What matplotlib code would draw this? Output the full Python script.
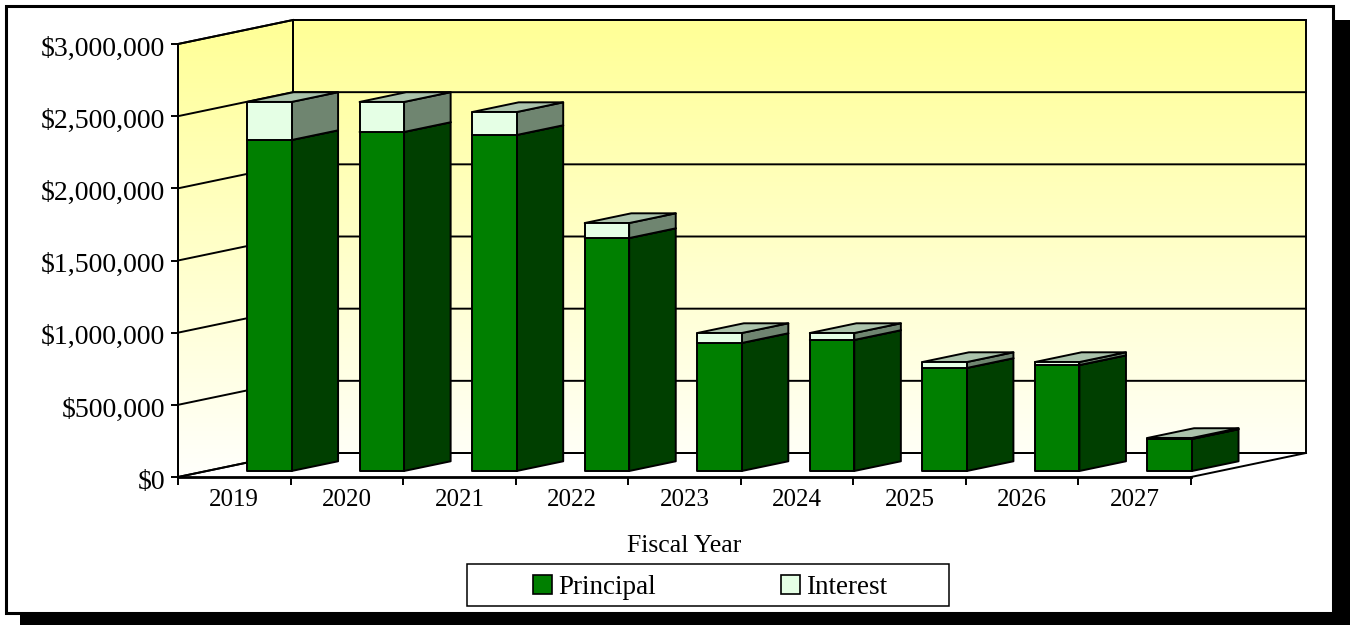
import numpy as np
import matplotlib
matplotlib.use('Agg')
import matplotlib.pyplot as plt
from matplotlib.patches import Polygon, Rectangle
from matplotlib.ticker import FuncFormatter
from matplotlib.transforms import ScaledTranslation

years = ['2019', '2020', '2021', '2022', '2023', '2024', '2025', '2026', '2027']
principal = [2293000, 2349000, 2328000, 1614000, 887000, 908000, 714000, 734000, 222000]
interest = [264000, 208000, 159000, 104000, 69000, 48000, 41000, 21000, 7000]

W, H = 1350, 625

# front plane of the chart in pixels
LEFT, RIGHT, BOTTOM, TOP = 178, 1191, 477, 44
YMAX = 3000000

# how far the back wall sits behind the front plane, in data units
DEPTH_X = 115 / ((RIGHT - LEFT) / len(years))
DEPTH_Y = 24 / ((BOTTOM - TOP) / YMAX)

BAR_LEFT = 0.358
BAR_W = 0.395
BAR_D0 = 0.25
BAR_D1 = 0.655

LW = 1.4

C_P = '#007f00'
C_P_SIDE = '#003f00'
C_P_TOP = '#7fbf7f'
C_I = '#e5ffe5'
C_I_SIDE = '#6f8570'
C_I_TOP = '#abc3ab'

plt.rcParams['font.family'] = ['Liberation Serif', 'DejaVu Serif']


def proj(x, y, d):
    # move a point on the front plane back by depth d (0 front, 1 back wall)
    return (x + d * DEPTH_X, y + d * DEPTH_Y)


def box(ax, x0, x1, y0, y1, front, side, top, z):
    a = [proj(x0, y0, BAR_D0), proj(x1, y0, BAR_D0), proj(x1, y1, BAR_D0), proj(x0, y1, BAR_D0)]
    b = [proj(x1, y0, BAR_D0), proj(x1, y0, BAR_D1), proj(x1, y1, BAR_D1), proj(x1, y1, BAR_D0)]
    c = [proj(x0, y1, BAR_D0), proj(x1, y1, BAR_D0), proj(x1, y1, BAR_D1), proj(x0, y1, BAR_D1)]
    for pts, col in ((b, side), (c, top), (a, front)):
        ax.add_patch(Polygon(pts, closed=True, facecolor=col, edgecolor='black',
                             linewidth=LW, joinstyle='round', clip_on=False, zorder=z))


fig = plt.figure(figsize=(W / 100, H / 100), dpi=100, facecolor='white')

# drop shadow and border round the whole chart
fig.add_artist(Rectangle((20 / W, 0), (W - 20) / W, (H - 20) / H, transform=fig.transFigure,
                         facecolor='black', edgecolor='none', zorder=-3))
fig.add_artist(Rectangle((6 / W, 1 - 613 / H), 1327 / W, 607 / H, transform=fig.transFigure,
                         facecolor='white', edgecolor='black', linewidth=2.2, zorder=-2))

ax = fig.add_axes([LEFT / W, 1 - BOTTOM / H, (RIGHT - LEFT) / W, (BOTTOM - TOP) / H])
ax.patch.set_visible(False)
n = len(years)

# yellow fade on the walls
back = [proj(0, 0, 1), proj(n, 0, 1), proj(n, YMAX, 1), proj(0, YMAX, 1)]
side = [proj(0, 0, 0), proj(0, 0, 1), proj(0, YMAX, 1), proj(0, YMAX, 0)]
grad = np.ones((256, 1, 3))
grad[:, 0, 2] = np.linspace(150, 252, 256) / 255
ext = (0, n + DEPTH_X, 0, YMAX + DEPTH_Y)
for poly in (back, side):
    im = ax.imshow(grad, extent=ext, origin='upper', aspect='auto', zorder=0)
    im.set_clip_box(fig.bbox)
    im.set_clip_path(Polygon(poly, closed=True, transform=ax.transData))

# wall outlines and grid
for poly in (back, side):
    ax.add_patch(Polygon(poly, closed=True, fill=False, edgecolor='black', linewidth=LW,
                         clip_on=False, zorder=1))
for v in np.arange(0, YMAX + 1, 500000):
    xs, ys = zip(proj(0, v, 0), proj(0, v, 1), proj(n, v, 1))
    ax.plot(xs, ys, color='black', linewidth=LW, clip_on=False, zorder=1)
xs, ys = zip(proj(n, 0, 1), proj(n, 0, 0))
ax.plot(xs, ys, color='black', linewidth=LW, clip_on=False, zorder=1)

# bars, principal first and interest stacked on top
for i in range(n):
    x0 = i + BAR_LEFT
    x1 = x0 + BAR_W
    p = principal[i]
    box(ax, x0, x1, 0, p, C_P, C_P_SIDE, C_P_TOP, 3)
    box(ax, x0, x1, p, p + interest[i], C_I, C_I_SIDE, C_I_TOP, 4)

ax.set_xlim(0, n)
ax.set_ylim(0, YMAX)

ax.spines['top'].set_visible(False)
ax.spines['right'].set_visible(False)
ax.spines['left'].set_linewidth(LW)
ax.spines['bottom'].set_linewidth(2)
ax.spines['left'].set_zorder(2)
ax.spines['bottom'].set_zorder(2)

ax.set_yticks(np.arange(0, YMAX + 1, 500000))
ax.yaxis.set_major_formatter(FuncFormatter(lambda v, pos: '${:,.0f}'.format(v)))
ax.tick_params(axis='y', length=5, width=LW, labelsize=20, pad=4)
# dollar labels sit a little under their ticks
nudge = ScaledTranslation(0, -1.5 / 72, fig.dpi_scale_trans)
for lab in ax.get_yticklabels():
    lab.set_transform(lab.get_transform() + nudge)

ax.set_xticks(np.arange(n + 1))
ax.set_xticklabels([])
ax.set_xticks(np.arange(n) + 0.5, minor=True)
ax.set_xticklabels(years, minor=True)
ax.tick_params(axis='x', which='major', length=6, width=LW)
ax.tick_params(axis='x', which='minor', length=0, labelsize=18, pad=9)
ax.set_xlabel('Fiscal Year', fontsize=18.5, labelpad=17)

# legend frame is wider than its entries, so it is drawn on its own
fig.add_artist(Rectangle((467.5 / W, 1 - 606 / H), 481.5 / W, 42.5 / H, transform=fig.transFigure,
                         facecolor='white', edgecolor='black', linewidth=1.1, zorder=1))
handles = [Rectangle((0, 0), 1, 1, facecolor=C_P, edgecolor='black', linewidth=1.2),
           Rectangle((0, 0), 1, 1, facecolor=C_I, edgecolor='black', linewidth=1.2)]
leg = fig.legend(handles, ['Principal', 'Interest'], ncol=2, loc='center',
                 bbox_to_anchor=(710 / W, 1 - 587 / H), fontsize=19.5, frameon=False,
                 handlelength=0.7, handleheight=0.7, handletextpad=0.24,
                 columnspacing=4.6, borderpad=0, borderaxespad=0)
leg.set_zorder(2)

fig.savefig('out.png', dpi=100, facecolor='white')
